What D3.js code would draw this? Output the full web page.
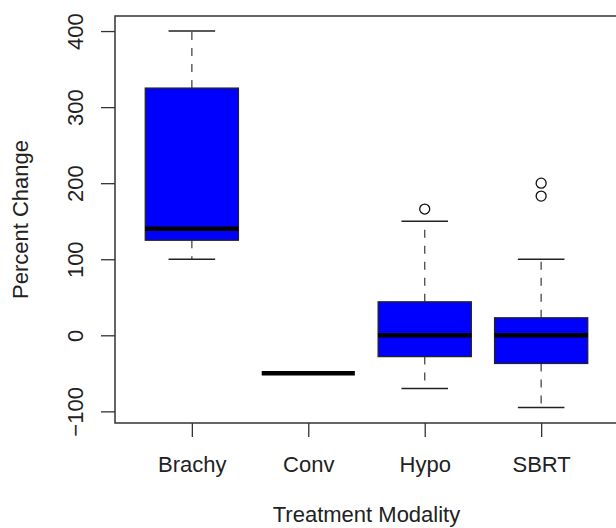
<!DOCTYPE html>
<html>
<head>
<meta charset="utf-8">
<script src="https://cdn.jsdelivr.net/npm/d3@7"></script>
<style>
  body { margin: 0; background: #fff; }
  svg { display: block; font-family: "Liberation Sans", Arial, sans-serif; }
</style>
</head>
<body>
<svg id="chart"></svg>
<script>
const categories = ["Brachy", "Conv", "Hypo", "SBRT"];
const whiskerLow = [100, -50, -70, -95];
const q1 = [125, -50, -28, -37];
const median = [140, -50, 0, 0];
const q3 = [325, -50, 44, 23];
const whiskerHigh = [400, -50, 150, 100];
const outliers = [[], [], [166], [200, 183]];
const yTicks = [-100, 0, 100, 200, 300, 400];

const w = 616;
const h = 528;
const plotLeft = 115;
const plotRight = 618;
const plotTop = 16;
const plotBottom = 423;

const svg = d3.select("#chart").attr("width", w).attr("height", h);

// R style 4% padding around 0.5..n+0.5
const xScale = d3.scaleLinear().domain([0.34, 4.66]).range([plotLeft, plotRight]);
const yScale = d3.scaleLinear().domain([-115.3, 419.8]).range([plotBottom, plotTop]);

const boxes = categories.map((c, i) => ({
  name: c,
  x: i + 1,
  lo: whiskerLow[i],
  q1: q1[i],
  med: median[i],
  q3: q3[i],
  hi: whiskerHigh[i],
  out: outliers[i],
}));

const boxW = xScale(1.4) - xScale(0.6);
const capW = boxW / 2;

const g = svg.append("g");

// whiskers
[["q3", "hi"], ["q1", "lo"]].forEach(([a, b]) => {
  g.selectAll(null)
    .data(boxes)
    .enter()
    .append("line")
    .attr("x1", (d) => xScale(d.x))
    .attr("x2", (d) => xScale(d.x))
    .attr("y1", (d) => yScale(d[a]))
    .attr("y2", (d) => yScale(d[b]))
    .attr("stroke", "#555")
    .attr("stroke-width", 1.4)
    .attr("stroke-dasharray", "8,8");
});

// staples
["hi", "lo"].forEach((k) => {
  g.selectAll(null)
    .data(boxes)
    .enter()
    .append("line")
    .attr("x1", (d) => xScale(d.x) - capW / 2)
    .attr("x2", (d) => xScale(d.x) + capW / 2)
    .attr("y1", (d) => yScale(d[k]))
    .attr("y2", (d) => yScale(d[k]))
    .attr("stroke", "#222")
    .attr("stroke-width", 1.4);
});

// boxes
g.selectAll("rect.box")
  .data(boxes)
  .enter()
  .append("rect")
  .attr("class", "box")
  .attr("x", (d) => xScale(d.x) - boxW / 2)
  .attr("width", boxW)
  .attr("y", (d) => yScale(d.q3))
  .attr("height", (d) => yScale(d.q1) - yScale(d.q3))
  .attr("fill", "#0000ff")
  .attr("stroke", "#222")
  .attr("stroke-width", 1.3);

// medians
g.selectAll("line.med")
  .data(boxes)
  .enter()
  .append("line")
  .attr("class", "med")
  .attr("x1", (d) => xScale(d.x) - boxW / 2)
  .attr("x2", (d) => xScale(d.x) + boxW / 2)
  .attr("y1", (d) => yScale(d.med))
  .attr("y2", (d) => yScale(d.med))
  .attr("stroke", "#000")
  .attr("stroke-width", 4.5);

// outliers
boxes.forEach((d) => {
  g.selectAll(null)
    .data(d.out)
    .enter()
    .append("circle")
    .attr("cx", xScale(d.x))
    .attr("cy", (v) => yScale(v))
    .attr("r", 5)
    .attr("fill", "none")
    .attr("stroke", "#111")
    .attr("stroke-width", 1.3);
});

// frame
svg.append("rect")
  .attr("x", plotLeft)
  .attr("y", plotTop)
  .attr("width", plotRight - plotLeft)
  .attr("height", plotBottom - plotTop)
  .attr("fill", "none")
  .attr("stroke", "#333")
  .attr("stroke-width", 1.5);

// axes
const yAxis = d3.axisLeft(yScale).tickValues(yTicks).tickSize(14).tickFormat(d3.format("d"));
const yg = svg.append("g").attr("transform", "translate(" + plotLeft + ",0)").call(yAxis);
yg.select(".domain").remove();
yg.selectAll(".tick line").attr("stroke", "#333").attr("stroke-width", 1.3);
yg.selectAll(".tick text")
  .attr("x", null)
  .attr("dy", null)
  .attr("transform", "translate(-32,0) rotate(-90)")
  .attr("text-anchor", "middle")
  .attr("font-size", 22)
  .attr("font-family", "Liberation Sans, Arial, sans-serif")
  .attr("fill", "#222");

const xAxis = d3.axisBottom(xScale)
  .tickValues([1, 2, 3, 4])
  .tickSize(14)
  .tickFormat((d) => categories[d - 1]);
const xg = svg.append("g").attr("transform", "translate(0," + plotBottom + ")").call(xAxis);
xg.select(".domain").remove();
xg.selectAll(".tick line").attr("stroke", "#333").attr("stroke-width", 1.3);
xg.selectAll(".tick text")
  .attr("y", 49)
  .attr("dy", null)
  .attr("font-size", 22)
  .attr("font-family", "Liberation Sans, Arial, sans-serif")
  .attr("fill", "#222");

// axis titles
svg.append("text")
  .attr("x", (plotLeft + plotRight) / 2)
  .attr("y", 522)
  .attr("text-anchor", "middle")
  .attr("font-size", 22)
  .attr("fill", "#222")
  .text("Treatment Modality");

svg.append("text")
  .attr("transform", "translate(28," + (plotTop + plotBottom) / 2 + ") rotate(-90)")
  .attr("text-anchor", "middle")
  .attr("font-size", 22)
  .attr("fill", "#222")
  .text("Percent Change");
</script>
</body>
</html>
